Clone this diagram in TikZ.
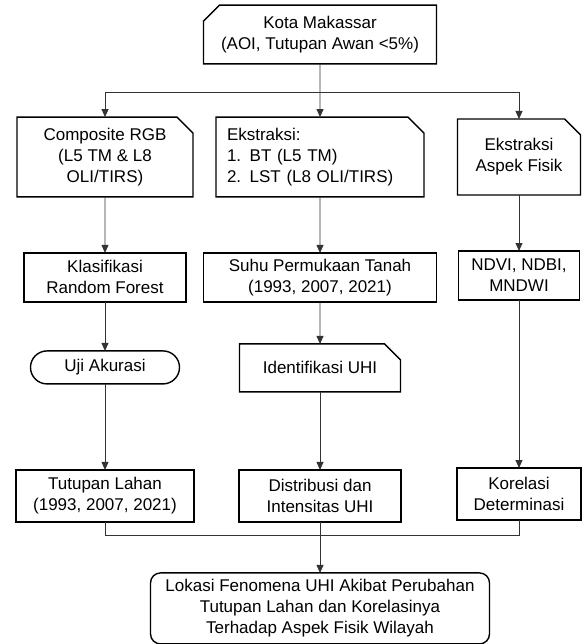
\documentclass[tikz,border=0pt]{standalone}
\usepackage{fontspec}
\setmainfont{Liberation Sans}
\usetikzlibrary{positioning, shapes.misc, arrows.meta}
\tikzset{
  procbox/.style = {draw=black, line width=1.4pt, outer sep=0pt, inner sep=3pt, align=center, minimum height=49pt},
  cutbox/.style = {procbox, chamfered rectangle, chamfered rectangle corners=north east,
                   chamfered rectangle xsep=8pt, chamfered rectangle ysep=8pt},
  startbox/.style = {cutbox, chamfered rectangle corners=north west},
  termbox/.style = {procbox, rounded corners=16.5pt, minimum height=33pt},
  endbox/.style = {procbox, rounded corners=10pt}
}

\begin{document}
\begin{tikzpicture}[node distance=56pt, line width=0.9pt, draw=black!80, >={Triangle[length=8pt,width=7pt]},
                    font=\fontsize{17pt}{21pt}\selectfont]
\useasboundingbox (0pt,0pt) rectangle (584pt,-644pt);
			\node[startbox, minimum width=233pt, minimum height=57pt] (kota) at (320pt,-34.5pt) {Kota Makassar\\(AOI, Tutupan Awan <5\%)};
			\node[cutbox, minimum width=176pt, minimum height=76pt] (composite) at (105pt,-157pt) {Composite RGB\\(L5 TM \& L8\\OLI/TIRS)};
			\node[cutbox, minimum width=208pt, minimum height=76pt, align=left, text width=186pt] (ekstraksi) at (320pt,-157pt) {Ekstraksi:\\1.\enspace BT (L5 TM)\\2.\enspace LST (L8 OLI/TIRS)};
			\node[cutbox, minimum width=123pt, minimum height=76pt] (aspek) at (519pt,-157pt) {Ekstraksi\\Aspek Fisik};
			\node[procbox, minimum width=162pt, below=of composite] (klasifikasi) {Klasifikasi\\Random Forest};
			\node[procbox, minimum width=233pt, below=of ekstraksi] (suhu) {Suhu Permukaan Tanah\\(1993, 2007, 2021)};
			\node[procbox, minimum width=121pt, below=of aspek] (indeks) {NDVI, NDBI,\\MNDWI};
			\node[termbox, minimum width=149pt, below=49pt of klasifikasi] (uji) {Uji Akurasi};
			\node[cutbox, minimum width=161pt, minimum height=48pt, below=42pt of suhu] (identifikasi) {Identifikasi UHI};
			\node[procbox, minimum width=178pt, minimum height=52pt, below=86pt of uji] (tutupan) {Tutupan Lahan\\(1993, 2007, 2021)};
			\node[procbox, minimum width=162pt, minimum height=52pt, below=78pt of identifikasi] (distribusi) {Distribusi dan\\Intensitas UHI};
			\node[procbox, minimum width=124pt, minimum height=52pt, below=168pt of indeks] (korelasi) {Korelasi\\Determinasi};
			\node[endbox, minimum width=339pt, minimum height=71pt, below=51pt of distribusi] (lokasi) {Lokasi Fenomena UHI Akibat Perubahan\\Tutupan Lahan dan Korelasinya\\Terhadap Aspek Fisik Wilayah};
			\coordinate[below=29pt of kota] (cabang);
			\coordinate[below=14pt of distribusi] (gabung);

			\draw[->] (kota) -- (ekstraksi);
			\draw[->] (cabang) -| (composite);
			\draw[->] (cabang) -| (aspek);
			\draw[->] (composite) -- (klasifikasi);
			\draw[->] (ekstraksi) -- (suhu);
			\draw[->] (aspek) -- (indeks);
			\draw[->] (klasifikasi) -- (uji);
			\draw[->] (suhu) -- (identifikasi);
			\draw[->] (uji) -- (tutupan);
			\draw[->] (identifikasi) -- (distribusi);
			\draw[->] (indeks) -- (korelasi);
			\draw (tutupan) |- (gabung);
			\draw (korelasi) |- (gabung);
			\draw[->] (distribusi) -- (lokasi);

		\end{tikzpicture}
\end{document}
